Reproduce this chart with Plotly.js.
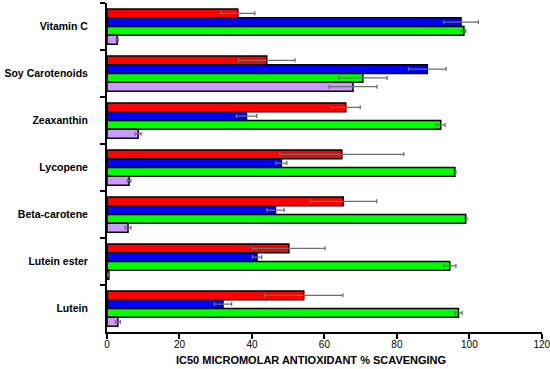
<!DOCTYPE html>
<html>
<head>
<meta charset="utf-8">
<script src="https://cdn.plot.ly/plotly-3.0.1.min.js"></script>
<style>html,body{margin:0;padding:0;background:#fff;}#chart{width:550px;height:369px;}</style>
</head>
<body>
<div id="chart"></div>
<script>
// Categories, top to bottom
const categories = ['Vitamin C', 'Soy Carotenoids', 'Zeaxanthin', 'Lycopene', 'Beta-carotene', 'Lutein ester', 'Lutein'];

// Series values (IC50 micromolar) and their error (±)
const redValues    = [36.1, 44.1, 65.9, 64.8, 65.2, 50.2, 54.3];
const redErrors    = [4.7, 7.8, 4.0, 17.1, 9.2, 10.0, 10.8];
const blueValues   = [97.7, 88.4, 38.5, 48.1, 46.5, 41.4, 32.0];
const blueErrors   = [4.8, 5.2, 2.8, 1.5, 2.4, 1.3, 2.4];
const greenValues  = [98.5, 70.6, 92.1, 96.0, 99.0, 94.6, 97.0];
const greenErrors  = [0.5, 6.7, 1.2, 0.3, 0.3, 1.7, 1.0];
const purpleValues = [2.8, 67.9, 8.6, 6.1, 5.8, 0.5, 3.0];
const purpleErrors = [0.3, 6.6, 0.8, 0.5, 0.8, 0.2, 0.7];

const xTickValues = [0, 20, 40, 60, 80, 100, 120];
const xTitle = 'IC50 MICROMOLAR ANTIOXIDANT % SCAVENGING';

function mk(vals, errs, color) {
  return {
    type: 'bar', orientation: 'h', x: vals, y: categories,
    marker: {color: color, line: {color: '#000', width: 1.5}},
    error_x: {type: 'data', array: errs, visible: true, color: '#6e6e6e', thickness: 1.3, width: 2},
    hoverinfo: 'x+y', showlegend: false
  };
}

const data = [
  mk(redValues, redErrors, '#ff0000'),
  mk(blueValues, blueErrors, '#0000ff'),
  mk(greenValues, greenErrors, '#00ff00'),
  mk(purpleValues, purpleErrors, '#cc99ff')
];

const layout = {
  width: 550, height: 369,
  margin: {l: 107, r: 8, t: 3, b: 37},
  paper_bgcolor: '#fff', plot_bgcolor: '#fff',
  barmode: 'group', bargap: 0.25, bargroupgap: 0,
  showlegend: false,
  font: {family: 'Liberation Sans, Arial, sans-serif', color: '#000'},
  xaxis: {
    range: [0, 120.05], tickvals: xTickValues, ticktext: xTickValues.map(String),
    showgrid: false, zeroline: false, showline: true, linecolor: '#000', linewidth: 2,
    ticks: 'outside', ticklen: 5, tickwidth: 2, tickcolor: '#000',
    tickfont: {size: 10, color: '#000'},
    ticklabeloverflow: 'allow',
    ticklabelstandoff: -3
  },
  yaxis: {
    type: 'category', categoryorder: 'array', categoryarray: categories,
    autorange: 'reversed',
    showgrid: false, zeroline: false, showline: true, linecolor: '#000', linewidth: 2,
    ticks: 'outside', tickson: 'boundaries', ticklen: 5, tickwidth: 2, tickcolor: '#000',
    tickfont: {size: 10.5, color: '#000'},
    ticklabelstandoff: 15,
    tickprefix: '<b>', ticksuffix: '</b>'
  },
  annotations: [{
    text: '<b>' + xTitle + '</b>', xref: 'paper', yref: 'paper',
    x: 0.47, y: -0.0866, xanchor: 'center', yanchor: 'middle',
    showarrow: false, font: {size: 11, color: '#000'}
  }]
};

Plotly.newPlot('chart', data, layout, {displayModeBar: false, staticPlot: true});
</script>
</body>
</html>
